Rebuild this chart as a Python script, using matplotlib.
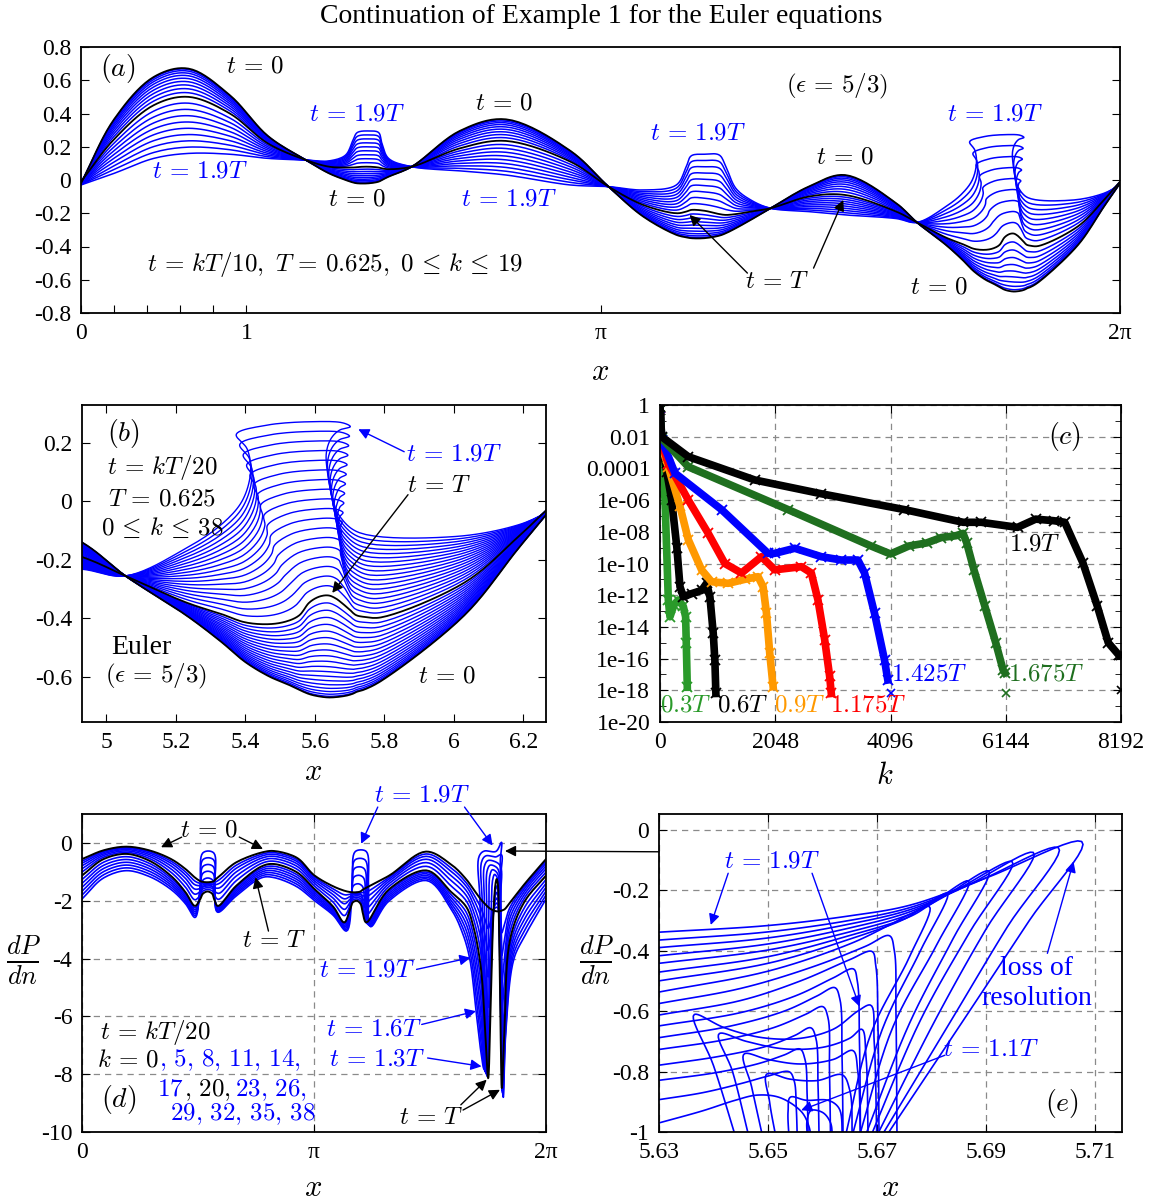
import numpy as np
import matplotlib
matplotlib.use("Agg")
import matplotlib.pyplot as plt
from matplotlib.patches import ConnectionPatch

plt.rcParams['font.family'] = ['serif']
plt.rcParams['font.serif'] = ['Liberation Serif', 'DejaVu Serif']
plt.rcParams['mathtext.fontset'] = 'cm'
plt.rcParams['axes.unicode_minus'] = False
plt.rcParams['font.size'] = 17

BLUE = '#0000ff'
PI = np.pi

# ---- panels (a),(b): wave profile, key times t=0, t=T, t=1.9T
wave_x0 = [0.00, 0.20, 0.44, 0.65, 0.90, 1.13, 1.36, 1.50, 1.60, 1.645, 1.67, 1.74, 1.80, 1.82, 1.86, 2.00,
           2.29, 2.57, 2.96, 3.19, 3.40, 3.60, 3.66, 3.69, 3.77, 3.86, 3.90, 3.96, 4.05, 4.17, 4.40, 4.62,
           4.93, 5.055, 5.23, 5.33, 5.40, 5.47, 5.52, 5.555, 5.585, 5.615, 5.64, 5.66, 5.675, 5.69, 5.70,
           5.71, 5.72, 5.74, 5.79, 6.03, 6.186, 6.2832]
wave_y0 = [-0.02, 0.365, 0.62, 0.67, 0.51, 0.265, 0.12, 0.04, 0.00, -0.015, -0.02, -0.02, -0.01, 0.00, 0.02, 0.08,
           0.295, 0.365, 0.175, -0.04, -0.22, -0.33, -0.345, -0.35, -0.35, -0.335, -0.32, -0.29, -0.24, -0.17,
           -0.04, 0.03, -0.14, -0.255, -0.39, -0.48, -0.55, -0.60, -0.625, -0.645, -0.66, -0.668, -0.671, -0.670,
           -0.668, -0.665, -0.662, -0.658, -0.652, -0.645, -0.615, -0.39, -0.16, -0.02]
wave_xT = list(wave_x0)
wave_yT = [-0.01, 0.245, 0.45, 0.50, 0.40, 0.22, 0.12, 0.08, 0.075, 0.075, 0.078, 0.08, 0.075, 0.07, 0.065, 0.08,
           0.19, 0.235, 0.11, -0.04, -0.15, -0.20, -0.19, -0.18, -0.185, -0.205, -0.21, -0.205, -0.19, -0.17,
           -0.10, -0.09, -0.19, -0.255, -0.346, -0.385, -0.414, -0.42, -0.41, -0.39, -0.345, -0.325, -0.322,
           -0.332, -0.345, -0.36, -0.37, -0.382, -0.39, -0.395, -0.397, -0.278, -0.12, -0.01]
wave_x19 = [0.00, 0.20, 0.44, 0.65, 0.90, 1.13, 1.36, 1.50, 1.60, 1.645, 1.67, 1.74, 1.80, 1.82, 1.86, 2.00,
            2.29, 2.57, 2.96, 3.19, 3.40, 3.60, 3.66, 3.69, 3.77, 3.86, 3.90, 3.96, 4.05, 4.17, 4.40, 4.62,
            4.93, 5.055, 5.23, 5.33, 5.39, 5.415, 5.405, 5.374, 5.462, 5.595, 5.68, 5.702, 5.671, 5.647, 5.633,
            5.638, 5.652, 5.671, 5.728, 6.005, 6.186, 6.2832]
wave_y19 = [-0.03, 0.04, 0.13, 0.16, 0.155, 0.13, 0.12, 0.115, 0.15, 0.24, 0.285, 0.295, 0.285, 0.22, 0.13, 0.08,
            0.055, 0.03, -0.03, -0.04, -0.06, -0.03, 0.08, 0.145, 0.155, 0.15, 0.08, -0.05, -0.12, -0.17,
            -0.19, -0.21, -0.232, -0.255, -0.16, -0.08, 0.0, 0.10, 0.18, 0.23, 0.261, 0.273, 0.269, 0.256,
            0.244, 0.216, 0.166, 0.085, 0.005, -0.05, -0.107, -0.12, -0.08, -0.03]

# ---- panel (d): dP/dn, key times t=0, t=T, t=1.9T
dpdn_x0 = [0.00, 0.30, 0.60, 0.90, 1.20, 1.40, 1.53, 1.60, 1.64, 1.71, 1.78, 1.80, 1.87, 2.09, 2.45, 2.60,
           2.90, 3.15, 3.40, 3.56, 3.63, 3.67, 3.72, 3.77, 3.80, 3.85, 4.16,
           4.66, 5.00, 5.20, 5.30, 5.40, 5.46, 5.50, 5.53, 5.57, 5.60, 5.615, 5.63, 5.645, 5.66, 5.675, 5.685,
           5.72, 5.80, 6.00, 6.2832]
dpdn_y0 = [-0.56, -0.25, -0.13, -0.25, -0.55, -0.90, -1.20, -1.32, -1.35, -1.36, -1.33, -1.28, -1.13, -0.67, -0.32,
           -0.28, -0.50, -1.13, -1.50, -1.66, -1.70, -1.71, -1.71, -1.68, -1.62, -1.55, -1.13,
           -0.30, -0.75, -1.25, -1.60, -1.95, -2.12, -2.22, -2.28, -2.33, -2.36, -2.365, -2.37, -2.37, -2.36,
           -2.35, -2.34, -2.30, -2.05, -1.40, -0.56]
dpdn_xT = [0.00, 0.30, 0.60, 0.90, 1.20, 1.40, 1.53, 1.60, 1.64, 1.70, 1.76, 1.79, 1.84, 2.09, 2.45, 2.60,
           2.90, 3.15, 3.40, 3.55, 3.63, 3.67, 3.72, 3.77, 3.80, 3.85, 4.16,
           4.66, 5.00, 5.20, 5.30, 5.40, 5.46, 5.50, 5.53, 5.57, 5.60, 5.615, 5.63, 5.645, 5.66, 5.675, 5.685,
           5.72, 5.80, 6.00, 6.2832]
dpdn_yT = [-1.13, -0.55, -0.38, -0.60, -1.13, -1.70, -2.18, -1.95, -1.75, -1.68, -1.75, -1.95, -2.18, -1.48,
           -0.79, -0.73, -1.00, -1.60, -2.20, -2.75, -2.30, -2.05, -2.00, -2.10, -2.40, -2.75, -1.60,
           -0.95, -1.70, -2.20, -2.90, -4.30, -6.50, -8.14, -6.00, -2.50, -1.40, -1.25, -1.40, -2.50, -5.00,
           -7.50, -8.48, -6.50, -3.30, -2.00, -1.13]
dpdn_x19 = [0.00, 0.30, 0.60, 0.90, 1.20, 1.40, 1.53, 1.60, 1.635, 1.71, 1.785, 1.80, 1.84, 2.09, 2.45, 2.60,
            2.90, 3.15, 3.40, 3.58, 3.66, 3.70, 3.78, 3.85, 3.88, 3.91, 4.16,
            4.66, 5.00, 5.15, 5.25, 5.335, 5.40, 5.44, 5.42, 5.39, 5.38, 5.45, 5.60, 5.68, 5.665, 5.685, 5.705,
            5.74, 5.85, 6.00, 6.2832]
dpdn_y19 = [-1.94, -1.20, -0.96, -1.15, -1.60, -2.10, -2.58, -1.50, -0.35, -0.28, -0.35, -1.50, -2.40, -1.83,
            -1.19, -1.20, -1.50, -2.00, -2.50, -3.05, -1.50, -0.30, -0.24, -0.30, -1.50, -2.90, -2.00,
            -1.30, -2.30, -3.10, -4.00, -5.80, -7.20, -7.80, -5.00, -2.00, -0.45, -0.28, -0.30, 0.02, -0.60,
            -4.00, -8.80, -6.50, -4.00, -3.20, -1.94]
d_steps = [0, 5, 8, 11, 14, 17, 20, 23, 26, 29, 32, 35, 38]

# ---- panel (c): Fourier spectra, (k, log10 |amplitude|)
spec_labels = ['0.3T', '0.6T', '0.9T', '1.175T', '1.425T', '1.675T', '1.9T']
spec_colors = ['#2a9a2a', 'black', '#ff9900', '#ff0000', '#0000ff', '#1f6f1f', 'black']
spec_k = [
    [0, 30, 89, 148, 177, 250, 325, 414, 455, 467, 485],
    [0, 30, 120, 207, 300, 355, 414, 562, 739, 828, 887, 946, 975, 993],
    [0, 30, 148, 355, 503, 739, 916, 1212, 1507, 1743, 1832, 1891, 1950, 2010],
    [0, 30, 148, 503, 857, 1152, 1448, 1803, 2039, 2512, 2689, 2807, 2926, 3014, 3044],
    [0, 30, 266, 1094, 1920, 2039, 2394, 2867, 3221, 3516, 3635, 3812, 3990, 4048],
    [0, 30, 503, 2276, 3753, 4096, 4418, 4741, 5000, 5257, 5386, 5450, 5579, 5773, 5966, 6095, 6130],
    [0, 30, 503, 1684, 2867, 4344, 5386, 5708, 6353, 6676, 6998, 7192, 7514, 7772, 7966, 8159, 8192],
]
spec_log = [
    [-0.3, -2.2, -6.0, -12.3, -13.36, -12.6, -12.3, -12.7, -13.36, -15.0, -17.8],
    [-0.3, -2.4, -4.2, -6.0, -9.0, -11.46, -12.1, -11.9, -11.7, -11.25, -12.1, -14.4, -16.1, -18.2],
    [-0.2, -2.6, -3.9, -6.4, -8.5, -10.4, -11.15, -11.25, -11.0, -10.83, -11.46, -13.1, -15.67, -17.77],
    [-0.2, -2.4, -3.7, -6.0, -8.1, -10.0, -10.6, -9.57, -10.4, -10.2, -10.6, -12.3, -14.8, -17.1, -18.2],
    [-0.2, -2.2, -4.3, -6.6, -9.36, -9.36, -9.04, -9.57, -9.78, -9.78, -10.6, -13.14, -16.1, -17.35],
    [-0.1, -2.1, -3.9, -6.6, -8.9, -9.4, -8.9, -8.7, -8.36, -8.25, -8.1, -8.7, -10.4, -12.7, -15.0, -16.7,
     -16.9],
    [-0.1, -2.0, -3.26, -4.73, -5.6, -6.6, -7.4, -7.4, -7.72, -7.2, -7.3, -7.4, -9.95, -12.7, -15.0, -15.8,
     -15.8],
]
floor_k = [4096, 6144, 8192]
floor_log = [-18.2, -18.2, -18.0]
floor_colors = ['#0000ff', '#1f6f1f', 'black']

# ---- panel (e): zoom of dP/dn near the crest
e_fan_x = [
    [5.630, 5.650, 5.665, 5.676, 5.690, 5.7076, 5.698, 5.687, 5.6711],
    [5.630, 5.650, 5.665, 5.676, 5.688, 5.7033, 5.694, 5.684, 5.6703],
    [5.630, 5.650, 5.665, 5.676, 5.686, 5.6987, 5.690, 5.681, 5.6695],
    [5.630, 5.650, 5.665, 5.676, 5.684, 5.6948, 5.687, 5.678, 5.6685],
    [5.630, 5.650, 5.665, 5.676, 5.682, 5.6905, 5.684, 5.676, 5.6675],
    [5.630, 5.650, 5.665, 5.676, 5.680, 5.6868, 5.681, 5.673, 5.6665],
    [5.630, 5.650, 5.665, 5.675, 5.678, 5.6829, 5.678, 5.671, 5.6652],
    [5.630, 5.650, 5.665, 5.672, 5.676, 5.6796, 5.676, 5.669, 5.6640],
]
e_fan_y = [
    [-0.339, -0.317, -0.285, -0.250, -0.160, -0.039, -0.30, -0.60, -1.03],
    [-0.365, -0.338, -0.300, -0.258, -0.175, -0.059, -0.32, -0.62, -1.03],
    [-0.390, -0.358, -0.312, -0.265, -0.190, -0.075, -0.33, -0.62, -1.03],
    [-0.417, -0.378, -0.325, -0.272, -0.205, -0.105, -0.34, -0.63, -1.03],
    [-0.442, -0.398, -0.338, -0.280, -0.225, -0.136, -0.36, -0.64, -1.03],
    [-0.471, -0.420, -0.350, -0.288, -0.245, -0.169, -0.38, -0.65, -1.03],
    [-0.500, -0.442, -0.362, -0.296, -0.262, -0.210, -0.40, -0.66, -1.03],
    [-0.537, -0.468, -0.378, -0.318, -0.280, -0.254, -0.42, -0.67, -1.03],
]
e_top_x = [
    [5.630, 5.645, 5.658, 5.668, 5.6722, 5.6732, 5.6735, 5.6737],
    [5.630, 5.645, 5.656, 5.665, 5.6690, 5.6698, 5.6702, 5.6704],
    [5.630, 5.645, 5.655, 5.662, 5.6656, 5.6664, 5.6668, 5.6670],
    [5.630, 5.643, 5.653, 5.659, 5.6622, 5.6632, 5.6636, 5.6638],
    [5.630, 5.642, 5.651, 5.657, 5.6600, 5.6610, 5.6613, 5.6615],
    [5.630, 5.641, 5.650, 5.655, 5.6578, 5.6588, 5.6592, 5.6594],
    [5.630, 5.640, 5.648, 5.653, 5.6558, 5.6568, 5.6572, 5.6574],
    [5.630, 5.638, 5.645, 5.650, 5.6538, 5.6548, 5.6552, 5.6554],
    [5.630, 5.638, 5.644, 5.648, 5.6520, 5.6560, 5.6575, 5.6580],
]
e_top_y = [
    [-0.575, -0.525, -0.455, -0.385, -0.350, -0.40, -0.60, -1.03],
    [-0.613, -0.565, -0.500, -0.430, -0.402, -0.45, -0.65, -1.03],
    [-0.649, -0.605, -0.550, -0.490, -0.460, -0.50, -0.70, -1.03],
    [-0.688, -0.650, -0.600, -0.550, -0.522, -0.56, -0.75, -1.03],
    [-0.727, -0.695, -0.655, -0.610, -0.585, -0.62, -0.80, -1.03],
    [-0.779, -0.750, -0.715, -0.680, -0.655, -0.69, -0.85, -1.03],
    [-0.829, -0.805, -0.775, -0.745, -0.725, -0.76, -0.88, -1.03],
    [-0.893, -0.870, -0.840, -0.815, -0.800, -0.83, -0.92, -1.03],
    [-0.970, -0.930, -0.895, -0.878, -0.885, -0.930, -0.98, -1.03],
]
e_box_x = [
    [5.6443, 5.6400, 5.6365, 5.6420, 5.6490, 5.6560, 5.6620, 5.6665, 5.6688, 5.6695, 5.6700],
    [5.6467, 5.6435, 5.6411, 5.6460, 5.6530, 5.6600, 5.6650, 5.6672, 5.6680, 5.6684],
    [5.6492, 5.6470, 5.6457, 5.6500, 5.6560, 5.6620, 5.6655, 5.6665, 5.6670],
    [5.6516, 5.6503, 5.6499, 5.6540, 5.6590, 5.6635, 5.6650, 5.6655],
    [5.6539, 5.6537, 5.6542, 5.6570, 5.6610, 5.6630, 5.6637],
    [5.6573, 5.6572, 5.6580, 5.6600, 5.6615, 5.6618],
]
e_box_y = [
    [-1.03, -0.78, -0.611, -0.655, -0.688, -0.690, -0.660, -0.600, -0.580, -0.70, -1.03],
    [-1.03, -0.80, -0.674, -0.700, -0.725, -0.720, -0.690, -0.660, -0.75, -1.03],
    [-1.03, -0.85, -0.741, -0.760, -0.775, -0.760, -0.730, -0.80, -1.03],
    [-1.03, -0.90, -0.807, -0.825, -0.830, -0.810, -0.86, -1.03],
    [-1.03, -0.93, -0.884, -0.895, -0.895, -0.92, -1.03],
    [-1.03, -0.96, -0.928, -0.935, -0.97, -1.03],
]


def smooth(x, y, sx=1.0, sy=1.0, n=10):
    # centripetal Catmull-Rom through the read points, for drawing only
    P = np.column_stack([np.asarray(x, float) / sx, np.asarray(y, float) / sy])
    P = np.vstack([2 * P[0] - P[1], P, 2 * P[-1] - P[-2]])
    out = [P[1]]
    for i in range(1, len(P) - 2):
        p0, p1, p2, p3 = P[i - 1], P[i], P[i + 1], P[i + 2]
        t0 = 0.0
        t1 = t0 + max(np.hypot(*(p1 - p0)), 1e-9) ** 0.5
        t2 = t1 + max(np.hypot(*(p2 - p1)), 1e-9) ** 0.5
        t3 = t2 + max(np.hypot(*(p3 - p2)), 1e-9) ** 0.5
        for t in np.linspace(t1, t2, n + 1)[1:]:
            a1 = (t1 - t) / (t1 - t0) * p0 + (t - t0) / (t1 - t0) * p1
            a2 = (t2 - t) / (t2 - t1) * p1 + (t - t1) / (t2 - t1) * p2
            a3 = (t3 - t) / (t3 - t2) * p2 + (t - t2) / (t3 - t2) * p3
            b1 = (t2 - t) / (t2 - t0) * a1 + (t - t0) / (t2 - t0) * a2
            b2 = (t3 - t) / (t3 - t1) * a2 + (t - t1) / (t3 - t1) * a3
            out.append((t2 - t) / (t2 - t1) * b1 + (t - t1) / (t2 - t1) * b2)
    out = np.array(out)
    return out[:, 0] * sx, out[:, 1] * sy


def blend(t, k0, kT, k19):
    # t in units of T, between the three read key curves
    if t <= 1:
        w = t ** 1.5
        return (1 - w) * k0 + w * kT
    w = (t - 1) / 0.9
    return (1 - w) * kT + w * k19


def style(ax):
    ax.tick_params(direction='in', length=6, top=True, right=True, labelsize=17, pad=7)
    for s in ax.spines.values():
        s.set_linewidth(1.3)


def grid(ax):
    ax.grid(True, ls=(0, (5, 4)), color='#8a8a8a', lw=0.9)
    ax.set_axisbelow(True)


def arrow(ax, text_xy, tip_xy, color='k'):
    ax.annotate('', xy=tip_xy, xytext=text_xy,
                arrowprops=dict(arrowstyle='-|>', color=color, lw=1.0, mutation_scale=16,
                                shrinkA=0, shrinkB=0))


def chained(ax, x, y, pieces, size=18):
    # pieces: (text, colour, gap in pixels after it)
    r = ax.figure.canvas.get_renderer()
    inv = ax.transData.inverted()
    for s, c, gap in pieces:
        t = ax.text(x, y, s, color=c, fontsize=size, va='baseline', ha='left')
        bb = t.get_window_extent(renderer=r)
        x = inv.transform((bb.x1 + gap, bb.y0))[0]


W0 = np.array([wave_x0, wave_y0])
WT = np.array([wave_xT, wave_yT])
W19 = np.array([wave_x19, wave_y19])
D0 = np.array([dpdn_x0, dpdn_y0])
DT = np.array([dpdn_xT, dpdn_yT])
D19 = np.array([dpdn_x19, dpdn_y19])

fig = plt.figure(figsize=(11.51, 12.01), dpi=100)
W, H = 1151, 1201


def box(l, t, r, b):
    return [l / W, 1 - b / H, (r - l) / W, (b - t) / H]


axA = fig.add_axes(box(81, 47, 1120, 313))
axB = fig.add_axes(box(82, 405, 546, 722))
axC = fig.add_axes(box(660, 405, 1121, 722))
axD = fig.add_axes(box(82, 814, 546, 1132))
axE = fig.add_axes(box(659, 814, 1122, 1132))

fig.text(0.522, 0.986, 'Continuation of Example 1 for the Euler equations', ha='center', va='center',
         fontsize=20)

fs = 18
T0 = r'$t\,=\,0$'
T19 = r'$t\,=\,1.9T$'
TT = r'$t\,=\,T$'

# ---------------- (a)
ax = axA
for k in range(20):
    pts = blend(k / 10, W0, WT, W19)
    xs, ys = smooth(pts[0], pts[1])
    black = k in (0, 10)
    ax.plot(xs, ys, color='k' if black else BLUE, lw=1.3 if black else 1.1, zorder=3 if black else 2)
ax.set_xlim(0, 2 * PI)
ax.set_ylim(-0.8, 0.8)
ax.set_xticks([0, 0.2, 0.4, 0.6, 0.8, 1, PI, 2 * PI])
ax.set_xticklabels(['0', '', '', '', '', '1', 'π', '2π'])
ax.set_yticks(np.arange(-0.8, 0.81, 0.2))
ax.set_yticklabels(['-0.8', '-0.6', '-0.4', '-0.2', '0', '0.2', '0.4', '0.6', '0.8'])
style(ax)
ax.tick_params(top=False)
ax.text(0.22, 0.67, r'$(a)$', fontsize=20, ha='center', va='center')
ax.text(1.05, 0.685, T0, fontsize=fs, ha='center', va='center')
ax.text(0.72, 0.05, T19, fontsize=fs, ha='center', va='center', color=BLUE)
ax.text(1.67, 0.395, T19, fontsize=fs, ha='center', va='center', color=BLUE)
ax.text(1.67, -0.12, T0, fontsize=fs, ha='center', va='center')
ax.text(2.56, 0.46, T0, fontsize=fs, ha='center', va='center')
ax.text(2.59, -0.12, T19, fontsize=fs, ha='center', va='center', color=BLUE)
ax.text(3.73, 0.28, T19, fontsize=fs, ha='center', va='center', color=BLUE)
ax.text(4.57, 0.56, r'$(\epsilon\,=\,5/3)$', fontsize=fs, ha='center', va='center')
ax.text(4.62, 0.135, T0, fontsize=fs, ha='center', va='center')
ax.text(5.53, 0.395, T19, fontsize=fs, ha='center', va='center', color=BLUE)
ax.text(5.19, -0.645, T0, fontsize=fs, ha='center', va='center')
ax.text(4.21, -0.615, TT, fontsize=fs, ha='center', va='center')
arrow(ax, (4.03, -0.56), (3.68, -0.21))
arrow(ax, (4.43, -0.53), (4.61, -0.12))
ax.text(1.54, -0.51, r'$t\,=\,kT/10,\ T\,=\,0.625,\ 0\,\leq\,k\,\leq\,19$', fontsize=fs,
        ha='center', va='center')
fig.text(600 / W, 1 - 372 / H, r'$x$', fontsize=22, ha='center', va='center')

# ---------------- (b)
ax = axB
for k in range(39):
    pts = blend(k / 20, W0, WT, W19)
    xs, ys = smooth(pts[0], pts[1])
    black = k in (0, 20)
    ax.plot(xs, ys, color='k' if black else BLUE, lw=1.3 if black else 1.0, zorder=3 if black else 2)
ax.set_xlim(4.93, 6.265)
ax.set_ylim(-0.755, 0.33)
ax.set_xticks([5, 5.2, 5.4, 5.6, 5.8, 6, 6.2])
ax.set_xticklabels(['5', '5.2', '5.4', '5.6', '5.8', '6', '6.2'])
ax.set_yticks([-0.6, -0.4, -0.2, 0, 0.2])
ax.set_yticklabels(['-0.6', '-0.4', '-0.2', '0', '0.2'])
style(ax)
ax.text(5.05, 0.234, r'$(b)$', fontsize=20, ha='center', va='center')
ax.text(5.16, 0.115, r'$t\,=\,kT/20$', fontsize=fs, ha='center', va='center')
ax.text(5.16, 0.005, r'$T\,=\,0.625$', fontsize=fs, ha='center', va='center')
ax.text(5.16, -0.09, r'$0\,\leq\,k\,\leq\,38$', fontsize=fs, ha='center', va='center')
ax.text(5.10, -0.50, 'Euler', fontsize=20, ha='center', va='center')
ax.text(5.143, -0.60, r'$(\epsilon\,=\,5/3)$', fontsize=fs, ha='center', va='center')
ax.text(5.98, -0.60, T0, fontsize=fs, ha='center', va='center')
ax.text(6.00, 0.16, T19, fontsize=fs, ha='center', va='center', color=BLUE)
arrow(ax, (5.857, 0.17), (5.725, 0.247), BLUE)
ax.text(5.957, 0.053, TT, fontsize=fs, ha='center', va='center')
arrow(ax, (5.868, 0.023), (5.65, -0.313))
fig.text(313 / W, 1 - 772 / H, r'$x$', fontsize=22, ha='center', va='center')

# ---------------- (c)
ax = axC
for kk, ll, c in zip(spec_k, spec_log, spec_colors):
    ax.plot(kk, 10.0 ** np.array(ll), color=c, lw=5.5, marker='x', ms=7, mew=1.3, solid_joinstyle='round')
for kk, ll, c in zip(floor_k, floor_log, floor_colors):
    ax.plot([kk], [10.0 ** ll], color=c, marker='x', ms=6, mew=1.2, ls='none')
ax.set_yscale('log')
ax.set_xlim(0, 8192)
ax.set_ylim(1e-20, 1)
ax.set_xticks([0, 2048, 4096, 6144, 8192])
ax.set_xticklabels(['0', '2048', '4096', '6144', '8192'])
major = [10.0 ** -e for e in range(0, 21, 2)]
ax.set_yticks(major)
ax.set_yticklabels(['1', '0.01', '0.0001'] + ['1e-%02d' % e for e in range(6, 21, 2)])
ax.set_yticks([10.0 ** -e for e in range(1, 20, 2)], minor=True)
ax.yaxis.set_minor_formatter(plt.NullFormatter())
style(ax)
ax.tick_params(which='minor', direction='in', length=4, right=True)
grid(ax)
label_pos = [(461, -18.93), (1472, -18.93), (2482, -18.93), (3706, -18.93), (4787, -17.03), (6862, -17.03),
             (6667, -8.83)]
for (kx, ly), lab, c in zip(label_pos, spec_labels, spec_colors):
    ax.text(kx, 10.0 ** ly, '$' + lab + '$', color=c, fontsize=fs, ha='center', va='center')
ax.text(7181, 10.0 ** -2.0, r'$(c)$', fontsize=20, ha='center', va='center')
fig.text(885 / W, 1 - 776 / H, r'$k$', fontsize=22, ha='center', va='center')

# ---------------- (d)
ax = axD
for k in d_steps:
    pts = blend(k / 20, D0, DT, D19)
    xs, ys = smooth(pts[0], pts[1], sx=6.28, sy=10.0)
    black = k in (0, 20)
    ax.plot(xs, ys, color='k' if black else BLUE, lw=1.4 if black else 1.2, zorder=3 if black else 2)
ax.set_xlim(0, 2 * PI)
ax.set_ylim(-10, 1)
ax.set_xticks([0, PI, 2 * PI])
ax.set_xticklabels(['0', 'π', '2π'])
ax.set_yticks([-10, -8, -6, -4, -2, 0])
ax.set_yticklabels(['-10', '-8', '-6', '-4', '-2', '0'])
style(ax)
grid(ax)
ax.text(1.72, 0.43, T0, fontsize=fs, ha='center', va='center')
arrow(ax, (1.35, 0.2), (1.07, -0.15))
arrow(ax, (2.13, 0.2), (2.45, -0.21))
ax.text(2.6, -3.39, TT, fontsize=fs, ha='center', va='center')
arrow(ax, (2.525, -3.05), (2.35, -1.19))
ax.text(4.60, 1.64, T19, fontsize=fs, ha='center', va='center', color=BLUE, clip_on=False)
ax.annotate('', xy=(3.78, -0.03), xytext=(4.005, 1.24), annotation_clip=False,
            arrowprops=dict(arrowstyle='-|>', color=BLUE, lw=1.0, mutation_scale=16, shrinkA=0, shrinkB=0))
ax.annotate('', xy=(5.56, -0.09), xytext=(5.18, 1.24), annotation_clip=False,
            arrowprops=dict(arrowstyle='-|>', color=BLUE, lw=1.0, mutation_scale=16, shrinkA=0, shrinkB=0))
ax.text(3.855, -4.43, T19, fontsize=fs, ha='center', va='center', color=BLUE)
arrow(ax, (4.53, -4.375), (5.26, -3.97), BLUE)
ax.text(3.955, -6.46, r'$t\,=\,1.6T$', fontsize=fs, ha='center', va='center', color=BLUE)
arrow(ax, (4.60, -6.28), (5.335, -5.82), BLUE)
ax.text(4.0, -7.5, r'$t\,=\,1.3T$', fontsize=fs, ha='center', va='center', color=BLUE)
arrow(ax, (4.68, -7.44), (5.41, -7.73), BLUE)
ax.text(4.73, -9.52, TT, fontsize=fs, ha='center', va='center')
arrow(ax, (5.13, -9.06), (5.48, -8.19))
arrow(ax, (5.16, -9.24), (5.66, -8.54))
ax.text(0.24, -6.8, r'$t\,=\,kT/20$', fontsize=fs, ha='left', va='baseline')
chained(ax, 0.20, -7.73, [(r'$k\,=\,0$', 'k', 0), (r'$,\,5,\,8,\,11,\,14,$', BLUE, 0)])
chained(ax, 1.02, -8.75, [(r'$17$', BLUE, 0), (r'$,\,20,$', 'k', 4), (r'$23,\,26,$', BLUE, 0)])
chained(ax, 1.19, -9.6, [(r'$29,\,32,\,35,\,38$', BLUE, 0)])
ax.text(0.494, -8.89, r'$(d)$', fontsize=20, ha='center', va='center')
fig.text(24 / W, 1 - 960 / H, r'$\frac{dP}{dn}$', fontsize=27, ha='center', va='center')
fig.text(313 / W, 1 - 1188 / H, r'$x$', fontsize=22, ha='center', va='center')

# ---------------- (e)
ax = axE
for xs0, ys0 in list(zip(e_fan_x, e_fan_y)) + list(zip(e_top_x, e_top_y)) + list(zip(e_box_x, e_box_y)):
    xs, ys = smooth(xs0, ys0, sx=0.085, sy=1.05)
    ax.plot(xs, ys, color=BLUE, lw=1.2)
ax.set_xlim(5.63, 5.715)
ax.set_ylim(-1, 0.052)
ax.set_xticks([5.63, 5.65, 5.67, 5.69, 5.71])
ax.set_xticklabels(['5.63', '5.65', '5.67', '5.69', '5.71'])
ax.set_yticks([-1, -0.8, -0.6, -0.4, -0.2, 0])
ax.set_yticklabels(['-1', '-0.8', '-0.6', '-0.4', '-0.2', '0'])
style(ax)
grid(ax)
ax.text(5.6507, -0.105, T19, fontsize=fs, ha='center', va='center', color=BLUE)
arrow(ax, (5.6427, -0.144), (5.6395, -0.315), BLUE)
arrow(ax, (5.6581, -0.144), (5.6668, -0.585), BLUE)
ax.text(5.6909, -0.729, r'$t\,=\,1.1T$', fontsize=fs, ha='center', va='center', color=BLUE)
arrow(ax, (5.6825, -0.746), (5.6561, -0.928), BLUE)
ax.text(5.6993, -0.458, 'loss of', fontsize=20, ha='center', va='center', color=BLUE)
ax.text(5.6993, -0.558, 'resolution', fontsize=20, ha='center', va='center', color=BLUE)
arrow(ax, (5.7013, -0.409), (5.7061, -0.105), BLUE)
ax.text(5.704, -0.906, r'$(e)$', fontsize=20, ha='center', va='center')
fig.text(597 / W, 1 - 960 / H, r'$\frac{dP}{dn}$', fontsize=27, ha='center', va='center')
fig.text(890 / W, 1 - 1188 / H, r'$x$', fontsize=22, ha='center', va='center')

con = ConnectionPatch(xyA=(5.63, -0.073), coordsA=axE.transData, xyB=(5.728, -0.28), coordsB=axD.transData,
                      arrowstyle='-|>', color='k', lw=1.0, mutation_scale=16)
fig.add_artist(con)

fig.savefig('out.png', dpi=100)
